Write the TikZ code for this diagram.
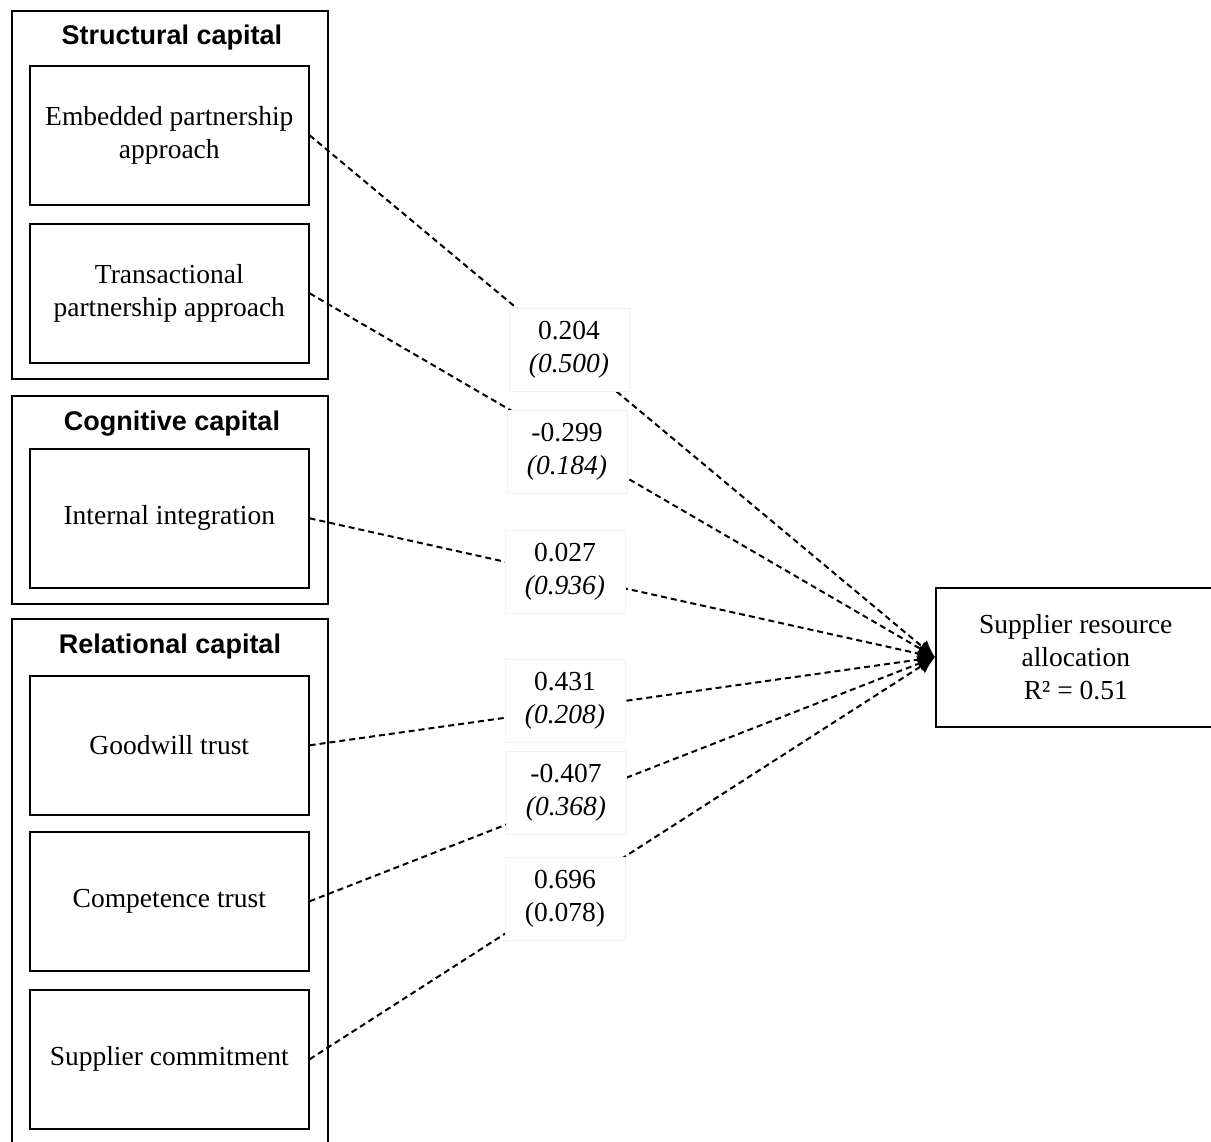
\documentclass[tikz,border=0pt]{standalone}
\usepackage{fontspec}
\setmainfont{Liberation Serif}
\newfontfamily\titlefont{Liberation Sans}
\usetikzlibrary{arrows.meta}
\begin{document}
\begin{tikzpicture}[x=1pt,y=-1pt,
  txt/.style={font=\fontsize{27.5}{33}\selectfont, align=center},
  box/.style={draw, line width=1.6pt, rectangle, inner sep=0pt, anchor=north west},
  groupbox/.style={box, minimum width=316pt},
  itembox/.style={box, txt, minimum width=279pt, minimum height=139pt},
  titletxt/.style={font=\titlefont\bfseries\fontsize{27}{33}\selectfont, inner sep=0pt},
  lab/.style={txt, fill=white, draw=black!5, line width=0.8pt, minimum width=120pt, minimum height=83pt, inner sep=0pt},
  conn/.style={line width=2pt, dash pattern=on 6pt off 4pt, -{Latex[length=17pt,width=16pt]}}
]
\useasboundingbox (0,0) rectangle (1211,1142);
\fill[white] (0,0) rectangle (1211,1142);
\clip (0,0) rectangle (1211,1142);

% group boxes
\node[groupbox, minimum height=368pt] (gs) at (11,10) {};
\node[groupbox, minimum height=208pt] (gc) at (11,395) {};
\node[groupbox, minimum height=560pt] (gr) at (11,618) {};
\node[titletxt] (ts) at (172,38) {Structural capital};
\node[titletxt] (tc) at (172,424) {Cognitive capital};
\node[titletxt] (tr) at (170,647) {Relational capital};

% items
\node[itembox] (emb) at (29,65) {Embedded partnership\\approach};
\node[itembox] (tra) at (29,223) {Transactional\\partnership approach};
\node[itembox] (int) at (29,448) {Internal integration};
\node[itembox] (goo) at (29,675) {Goodwill trust};
\node[itembox] (com) at (29,831) {Competence trust};
\node[itembox] (sup) at (29,989) {Supplier commitment};

% target
\node[box, txt, minimum width=280pt, minimum height=139pt] (tgt) at (935,587) {Supplier resource\\allocation\\R² = 0.51};

% connectors
\draw[conn] (emb.east) -- (tgt.west);
\draw[conn] (tra.east) -- (tgt.west);
\draw[conn] (int.east) -- (tgt.west);
\draw[conn] (goo.east) -- (tgt.west);
\draw[conn] (com.east) -- (tgt.west);
\draw[conn] (sup.east) -- (tgt.west);

% labels
\node[lab] (l1) at (569,350) {0.204\\\textit{(0.500)}};
\node[lab] (l2) at (567,452) {-0.299\\\textit{(0.184)}};
\node[lab] (l3) at (565,572) {0.027\\\textit{(0.936)}};
\node[lab] (l4) at (565,701) {0.431\\\textit{(0.208)}};
\node[lab] (l5) at (566,793) {-0.407\\\textit{(0.368)}};
\node[lab] (l6) at (565,899) {0.696\\(0.078)};
\end{tikzpicture}
\end{document}
